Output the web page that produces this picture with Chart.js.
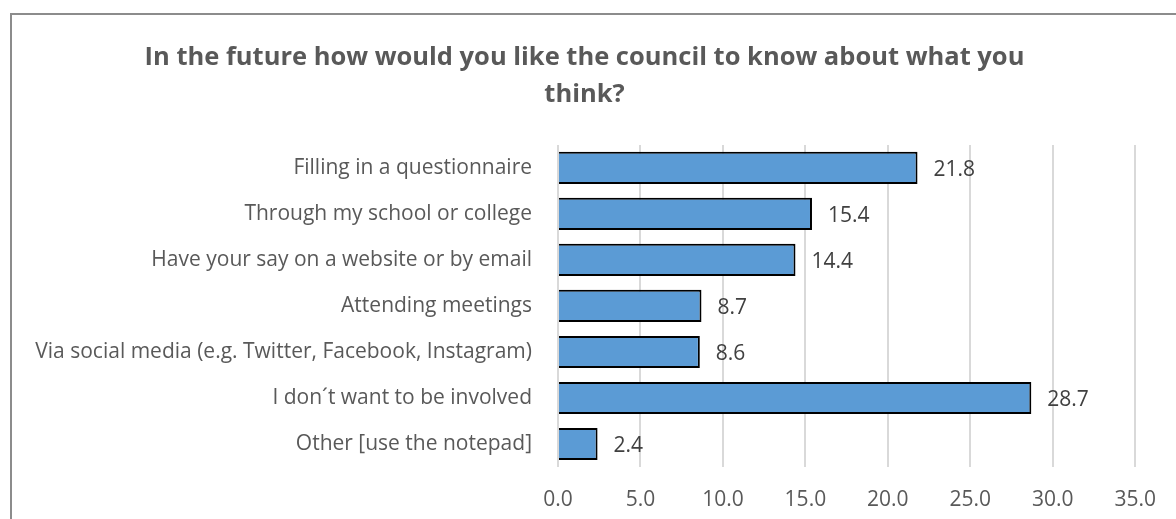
<!DOCTYPE html>
<html>
<head>
<meta charset="utf-8">
<script src="https://cdn.jsdelivr.net/npm/chart.js@4/dist/chart.umd.min.js"></script>
<style>
  html, body { margin: 0; padding: 0; background: #fff; }
  #wrap { position: relative; width: 1176px; height: 519px; overflow: hidden; }
  #frame { position: absolute; left: 10px; top: 13px; width: 1200px; height: 560px; border: 2px solid #8c8c8c; box-sizing: border-box; }
  #chart { position: absolute; left: 0; top: 0; }
</style>
</head>
<body>
<div id="wrap">
  <div id="frame"></div>
  <canvas id="chart" width="1176" height="519"></canvas>
</div>
<script>
  // Chart data
  const categories = [
    'Filling in a questionnaire',
    'Through my school or college',
    'Have your say on a website or by email',
    'Attending meetings',
    'Via social media (e.g. Twitter, Facebook, Instagram)',
    'I don\u00b4t want to be involved',
    'Other [use the notepad]'
  ];
  const percentages = [21.8, 15.4, 14.4, 8.7, 8.6, 28.7, 2.4];
  const titleLines = ['In the future how would you like the council to know about what you', 'think?'];

  const fontFamily = "'Open Sans', 'Liberation Sans', sans-serif";

  // Draw the value next to the end of each bar
  const valueLabels = {
    id: 'valueLabels',
    afterDatasetsDraw(chart) {
      const ctx = chart.ctx;
      const meta = chart.getDatasetMeta(0);
      ctx.save();
      ctx.font = '21px ' + fontFamily;
      ctx.fillStyle = '#404040';
      ctx.textAlign = 'left';
      ctx.textBaseline = 'middle';
      meta.data.forEach((bar, i) => {
        ctx.fillText(percentages[i].toFixed(1), bar.x + 16, bar.y + 2);
      });
      ctx.restore();
    }
  };

  const ctx = document.getElementById('chart').getContext('2d');
  const chart = new Chart(ctx, {
    type: 'bar',
    data: {
      labels: categories,
      datasets: [{
        data: percentages,
        backgroundColor: '#5b9bd5',
        borderColor: '#000000',
        borderWidth: 2,
        borderSkipped: 'left',
        categoryPercentage: 1,
        barPercentage: 0.7
      }]
    },
    options: {
      indexAxis: 'y',
      responsive: false,
      animation: false,
      layout: { padding: { left: 30, right: 37, top: 0, bottom: 0 } },
      plugins: {
        legend: { display: false },
        tooltip: { enabled: false },
        title: {
          display: true,
          text: titleLines,
          color: '#595959',
          font: { family: fontFamily, size: 25.5, weight: 'bold', lineHeight: 1.45 },
          padding: { top: 39, bottom: 32 }
        }
      },
      scales: {
        x: {
          min: 0,
          max: 35,
          ticks: {
            stepSize: 5,
            color: '#595959',
            font: { family: fontFamily, size: 21 },
            padding: 20,
            callback: (v) => Number(v).toFixed(1)
          },
          grid: { color: '#d9d9d9', lineWidth: 2, drawTicks: false },
          border: { display: false },
          afterFit: (scale) => { scale.height = 52; }
        },
        y: {
          ticks: {
            color: '#595959',
            font: { family: fontFamily, size: 21 },
            padding: 26
          },
          grid: { display: false, drawTicks: false },
          border: { display: false },
          afterFit: (scale) => { scale.width = 528; }
        }
      }
    },
    plugins: [valueLabels]
  });
</script>
</body>
</html>
